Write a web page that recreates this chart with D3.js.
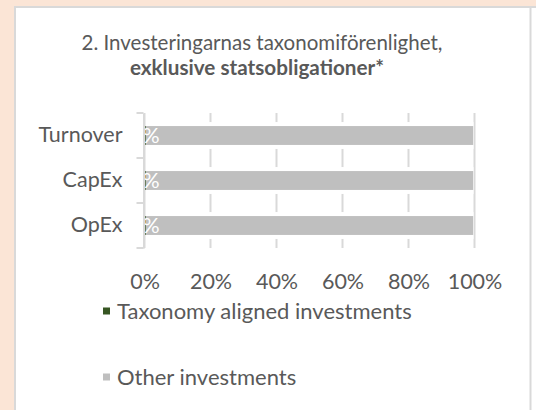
<!DOCTYPE html>
<html>
<head>
<meta charset="utf-8">
<script src="https://cdn.jsdelivr.net/npm/d3@7"></script>
<style>
  html, body { margin: 0; padding: 0; background: #fbe5d6; }
  svg { display: block; }
</style>
</head>
<body>
<svg id="chart" width="536" height="410"></svg>
<script>
// data
const categories = ["Turnover", "CapEx", "OpEx"];
const aligned = [0.4, 0.4, 0.4];   // Taxonomy aligned investments (%)
const other = [99.2, 99.2, 99.2];  // Other investments (%)
const alignedLabels = ["0%", "0%", "0%"];
const xTicks = [0, 20, 40, 60, 80, 100];
const seriesNames = ["Taxonomy aligned investments", "Other investments"];
const seriesColors = ["#375623", "#bfbfbf"];

const svg = d3.select("#chart");
const font = "Lato, 'Open Sans', sans-serif";
const textColor = "#595959";
const gridColor = "#d9d9d9";

// white panel with grey frame
svg.append("rect").attr("x", 15).attr("y", 7).attr("width", 530).attr("height", 410)
    .attr("fill", "#fff").attr("stroke", gridColor).attr("stroke-width", 2);
svg.append("line").attr("x1", 530.5).attr("x2", 530.5).attr("y1", 7).attr("y2", 410)
    .attr("stroke", gridColor).attr("stroke-width", 2);
svg.append("rect").attr("x", 532).attr("y", 8).attr("width", 4).attr("height", 402).attr("fill", "#fff");

// title
const title = svg.append("text").attr("text-anchor", "middle")
    .attr("font-family", font).attr("fill", textColor);
title.append("tspan").attr("x", 262).attr("y", 50).attr("font-size", 20.5)
    .text("2. Investeringarnas taxonomiförenlighet,");
title.append("tspan").attr("x", 257).attr("y", 75).attr("font-size", 20.7).attr("font-weight", "bold")
    .text("exklusive statsobligationer*");

const x = d3.scaleLinear().domain([0, 100]).range([144.5, 474.5]);
const y = d3.scaleBand().domain(categories).range([113, 248]).paddingInner(0.58).paddingOuter(0.29);

// gridlines
svg.append("g").selectAll("line").data(xTicks).join("line")
    .attr("x1", d => x(d)).attr("x2", d => x(d))
    .attr("y1", 113).attr("y2", 248)
    .attr("stroke", gridColor).attr("stroke-width", 2);

// white halo round bars
svg.append("g").selectAll("rect").data(categories).join("rect")
    .attr("x", x(0) + 2).attr("y", d => y(d) - 4)
    .attr("width", x(100) - x(0) - 3).attr("height", y.bandwidth() + 8)
    .attr("fill", "#fff");

// stacked bars
const rows = categories.map((c, i) => ({ cat: c, a: aligned[i], o: other[i], label: alignedLabels[i] }));
svg.append("g").selectAll("rect").data(rows).join("rect")
    .attr("x", d => x(0)).attr("y", d => y(d.cat))
    .attr("width", d => x(d.a) - x(0)).attr("height", y.bandwidth())
    .attr("fill", seriesColors[0]);
svg.append("g").selectAll("rect").data(rows).join("rect")
    .attr("x", d => x(d.a)).attr("y", d => y(d.cat))
    .attr("width", d => x(d.a + d.o) - x(d.a)).attr("height", y.bandwidth())
    .attr("fill", seriesColors[1]);

// data labels for the aligned series
svg.append("g").selectAll("text").data(rows).join("text")
    .attr("x", d => x(d.a / 2)).attr("y", d => y(d.cat) + y.bandwidth() / 2)
    .attr("dy", "0.35em").attr("text-anchor", "middle")
    .attr("font-family", font).attr("font-size", 21).attr("fill", "#fff")
    .text(d => d.label);

// y axis
const yAxis = svg.append("g").attr("transform", `translate(${x(0) - 1},0)`)
    .call(d3.axisLeft(y).tickSize(0).tickPadding(21));
yAxis.select(".domain").attr("stroke", gridColor).attr("stroke-width", 2);
yAxis.selectAll("text").attr("font-family", font).attr("font-size", 21.5).attr("fill", textColor);
yAxis.append("g").selectAll("line").data(d3.range(categories.length + 1)).join("line")
    .attr("x1", -7).attr("x2", 0)
    .attr("y1", i => 113 + i * 45).attr("y2", i => 113 + i * 45)
    .attr("stroke", gridColor).attr("stroke-width", 2);

// x tick labels
const xAxis = svg.append("g").attr("transform", "translate(0,281)")
    .call(d3.axisBottom(x).tickValues(xTicks).tickFormat(d => d + "%").tickSize(0));
xAxis.select(".domain").remove();
xAxis.selectAll("text").attr("y", 0).attr("dy", "0.35em")
    .attr("font-family", font).attr("font-size", 21.5).attr("fill", textColor);

// legend
const legendY = [311, 377];
const legend = svg.append("g").selectAll("g").data(seriesNames).join("g")
    .attr("transform", (d, i) => `translate(103,${legendY[i]})`);
legend.append("rect").attr("x", 0).attr("y", -3.5).attr("width", 7).attr("height", 7)
    .attr("fill", (d, i) => seriesColors[i]);
legend.append("text").attr("x", 14).attr("dy", "0.35em")
    .attr("font-family", font).attr("font-size", 22).attr("fill", textColor)
    .text(d => d);
</script>
</body>
</html>
